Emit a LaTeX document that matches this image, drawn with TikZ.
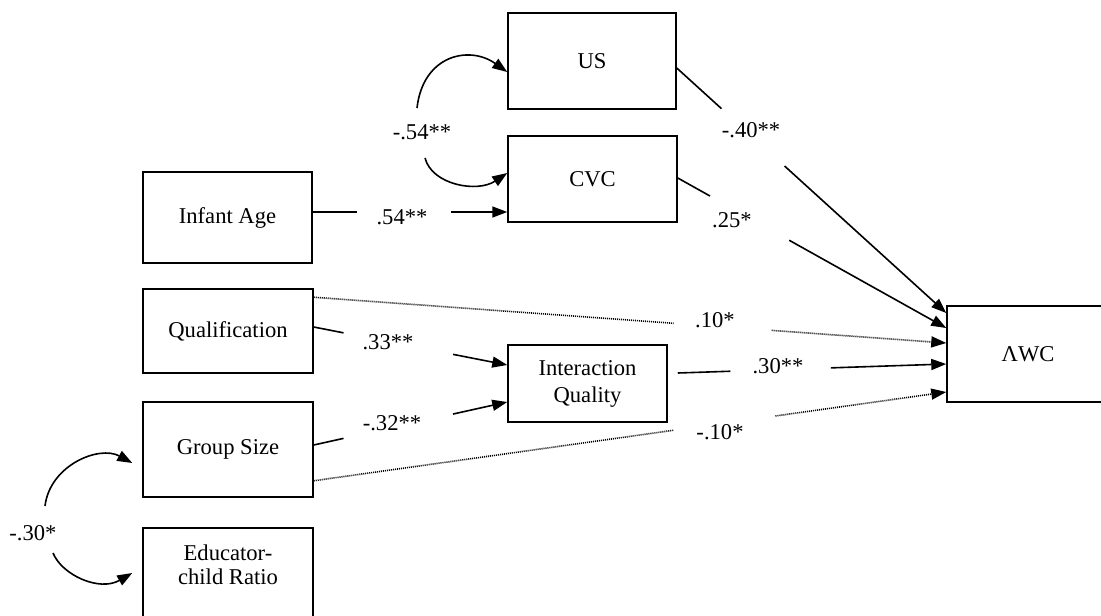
\documentclass[tikz,border=0pt]{standalone}
\usepackage{fontspec}
\setmainfont{Liberation Serif}
\usetikzlibrary{arrows.meta,calc}

\begin{document}
\begin{tikzpicture}[x=0.5pt, y=0.5pt, >={Triangle[length=7.5pt,width=5.5pt]}, line width=0.8pt]

    \tikzset{%
    obsbox/.style={
        draw,
        line width=0.75pt,
        align=center,
        font=\fontsize{11.3}{13.5}\selectfont
        },
    coef/.style={
        inner sep=1pt,
        font=\fontsize{11.3}{13.5}\selectfont
        },
    weak path/.style={
        line width=0.8pt,
        dash pattern=on 0.5pt off 0.5pt
        },
    }

    \useasboundingbox (0,0) rectangle (1101,-615);

    % Observed variables
    \node [obsbox, minimum width=84pt, minimum height=48pt] (us) at (592,-61) {US};
    \node [obsbox, minimum width=84.5pt, minimum height=43pt] (cvc) at (592.5,-179) {CVC};
    \node [obsbox, minimum width=84.5pt, minimum height=45.5pt] (age) at (227.5,-217.5) {Infant Age};
    \node [obsbox, minimum width=85pt, minimum height=42pt] (qual) at (228,-331) {Qualification};
    \node [obsbox, minimum width=85pt, minimum height=47.5pt] (group) at (228,-449.5) {Group Size};
    \node [obsbox, minimum width=85pt, minimum height=46pt] (ratio) at (228,-574) {};
    \node [align=center, font=\fontsize{11.3}{12}\selectfont] (ratio-text) at (228,-565) {Educator-\\child Ratio};
    \node [obsbox, minimum width=79.5pt, minimum height=38.5pt] (iq) at (587.5,-383.5) {Interaction\\Quality};
    \node [obsbox, minimum width=81pt, minimum height=48pt] (awc) at (1028,-354) {ΛWC};

    % Path coefficients
    \node [coef] (c-us) at (751,-130) {-.40**};
    \node [coef] (c-cvc) at (732,-220) {.25*};
    \node [coef] (c-age) at (402,-217) {.54**};
    \node [coef] (c-qual) at (388,-342) {.33**};
    \node [coef] (c-group) at (392,-423) {-.32**};
    \node [coef] (c-qual2) at (715,-320) {.10*};
    \node [coef] (c-iq) at (778,-366) {.30**};
    \node [coef] (c-group2) at (720,-432) {-.10*};
    \node [coef] (r54) at (422,-132) {-.54**};
    \node [coef] (r30) at (33,-533) {-.30*};

    % Ends of the paths
    \coordinate (us-out) at ($(us.east)+(0,-7)$);
    \coordinate (cvc-out) at ($(cvc.east)+(0,1)$);
    \coordinate (age-out) at ($(age.east)+(0,5.5)$);
    \coordinate (cvc-in) at ($(cvc.west)+(0,-33)$);
    \coordinate (qual-out) at ($(qual.east)+(0,4)$);
    \coordinate (qual-out2) at ($(qual.north east)+(0,-9)$);
    \coordinate (group-out) at ($(group.east)+(0,4.5)$);
    \coordinate (group-out2) at ($(group.south east)+(0,17)$);
    \coordinate (iq-in1) at ($(iq.west)+(0,18.5)$);
    \coordinate (iq-in2) at ($(iq.west)+(0,-18.5)$);
    \coordinate (iq-out) at ($(iq.east)+(10,10.5)$);
    \coordinate (awc-in1) at ($(awc.west)+(0,41)$);
    \coordinate (awc-in2) at ($(awc.west)+(0,26)$);
    \coordinate (awc-in3) at ($(awc.west)+(0,11)$);
    \coordinate (awc-in4) at ($(awc.west)+(0,-10)$);
    \coordinate (awc-in5) at ($(awc.west)+(0,-38)$);

    % Paths, broken where the coefficient sits
    \foreach \s/\t/\a/\b/\st in {
        us-out/awc-in1/.166/.40/solid,
        cvc-out/awc-in2/.12/.415/solid,
        age-out/cvc-in/.23/.71/solid,
        qual-out/iq-in1/.154/.72/solid,
        group-out/iq-in2/.154/.72/solid,
        qual-out2/awc-in3/.569/.724/weak path,
        iq-out/awc-in4/.196/.57/solid,
        group-out2/awc-in5/.569/.73/weak path}
    {
    \path (\s) -- coordinate[pos=\a] (gap-a) coordinate[pos=\b] (gap-b) (\t);
    \draw [\st] (\s) -- (gap-a);
    \draw [->, \st] (gap-b) -- (\t);
    }

    % Correlations
    \draw [->] ($(r54)+(-5,24)$) .. controls ($(r54)+(1,77)$) and ($(us.west)+(-38,16)$) .. ($(us.west)+(0,-11)$);
    \draw [->] ($(r54)+(3,-26)$) .. controls ($(r54)+(10,-53)$) and ($(cvc.west)+(-30,-14)$) .. ($(cvc.west)+(0,6)$);
    \draw [->] ($(r30)+(12,27)$) .. controls ($(r30)+(17,68)$) and ($(group.west)+(-43,4.5)$) .. ($(group.west)+(-10,-13.5)$);
    \draw [->] ($(r30)+(20,-20)$) .. controls ($(r30)+(29,-42)$) and ($(ratio.west)+(-43,-18)$) .. ($(ratio.west)+(-10,1)$);

\end{tikzpicture}
\end{document}
